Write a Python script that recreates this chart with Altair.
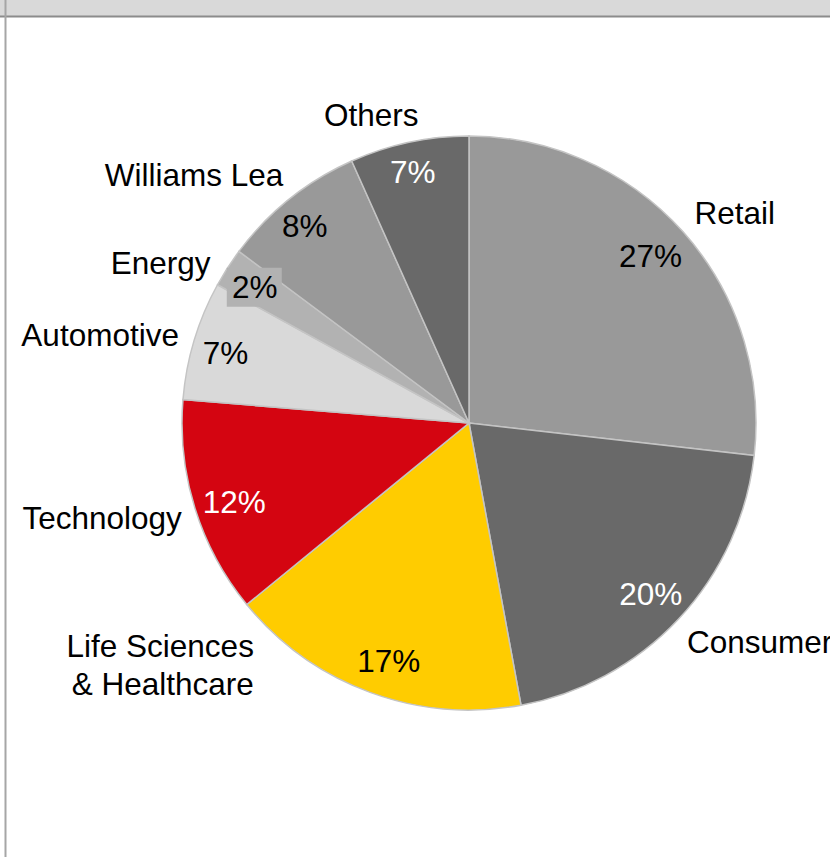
import math
import altair as alt
import pandas as pd

# ---- data ----
sectors = ["Retail", "Consumer", "Life Sciences & Healthcare", "Technology",
           "Automotive", "Energy", "Williams Lea", "Others"]
shares = [26.8, 20.3, 17.0, 12.2, 6.7, 2.2, 8.1, 6.7]
pct_labels = ["27%", "20%", "17%", "12%", "7%", "2%", "8%", "7%"]
name_labels = ["Retail", "Consumer", "Life Sciences\n& Healthcare", "Technology",
               "Automotive", "Energy", "Williams Lea", "Others"]

slice_colors = ["#999999", "#696969", "#FFCC00", "#D40511",
                "#D9D9D9", "#B2B2B2", "#999999", "#696969"]
pct_colors = ["#000000", "#FFFFFF", "#000000", "#FFFFFF",
              "#000000", "#000000", "#000000", "#FFFFFF"]

df = pd.DataFrame({
    "order": list(range(len(sectors))),
    "sector": sectors,
    "share": shares,
    "pct": pct_labels,
    "name": name_labels,
})
total = sum(shares)

FONT = "Liberation Sans"
FS = 31.5
CX, CY = 469, 423
R_OUT = 287
R_PCT = 250
R_NAME = 305
ts = alt.Scale(domain=[0, total], range=[0, 2 * math.pi])

base = (
    alt.Chart(df)
    .transform_window(cum="sum(share)", sort=[alt.SortField("order")], frame=[None, 0])
    .transform_calculate(start="datum.cum - datum.share",
                         mid="datum.cum - datum.share / 2")
)

pos = dict(x=alt.value(CX), y=alt.value(CY))

arcs = base.mark_arc(outerRadius=R_OUT, stroke="#C4C4C4", strokeWidth=1.5).encode(
    theta=alt.Theta("start:Q", stack=None, scale=ts),
    theta2="cum:Q",
    color=alt.Color("sector:N", scale=alt.Scale(domain=sectors, range=slice_colors), legend=None),
    **pos,
)

# per-label nudges for the percentage labels (inside end of each slice)
pct_place = {
    "Retail": (-5, 2),
    "Consumer": (-1, 2),
    "Life Sciences & Healthcare": (6, 5),
    "Technology": (4, 7),
    "Automotive": (-4, 4),
    "Energy": (-4, 1),
    "Williams Lea": (-8, 0),
    "Others": (-4, -5),
}

# background box behind the small "2%" label, centred on the label position
ang = f"2 * PI * datum.mid / {total}"
e_dx, e_dy = pct_place["Energy"]
energy_bg = (
    base.transform_filter(alt.datum.sector == "Energy")
    .transform_calculate(
        bx=f"{CX} + {R_PCT} * sin({ang}) + ({e_dx})",
        by=f"{CY} - {R_PCT} * cos({ang}) + ({e_dy})",
    )
    .transform_calculate(bx1="datum.bx - 28", bx2="datum.bx + 27",
                         by1="datum.by - 21", by2="datum.by + 18")
    .mark_rect(color="#B2B2B2")
    .encode(
        x=alt.X("bx1:Q", scale=None), x2="bx2:Q",
        y=alt.Y("by1:Q", scale=None), y2="by2:Q",
    )
)

pct_layers = []
for sec, (ddx, ddy) in pct_place.items():
    pct_layers.append(
        base.transform_filter(alt.datum.sector == sec)
        .mark_text(radius=R_PCT, fontSize=FS, font=FONT, dx=ddx, dy=ddy)
        .encode(
            theta=alt.Theta("mid:Q", stack=None, scale=ts),
            text="pct:N",
            color=alt.Color("sector:N", scale=alt.Scale(domain=sectors, range=pct_colors), legend=None),
            **pos,
        )
    )

# per-label placement (alignment and nudges) for the outside category names
name_place = {
    "Retail": dict(align="left", dx=-2, dy=-5),
    "Consumer": dict(align="left", dx=-5, dy=13),
    "Life Sciences & Healthcare": dict(align="right", dx=-110, dy=-61),
    "Technology": dict(align="right", dx=4, dy=6),
    "Automotive": dict(align="right", dx=2, dy=2),
    "Energy": dict(align="right", dx=-2, dy=7),
    "Williams Lea": dict(align="right", dx=5, dy=-8),
    "Others": dict(align="center", dx=-34, dy=-8),
}

name_layers = []
for sec, opts in name_place.items():
    name_layers.append(
        base.transform_filter(alt.datum.sector == sec)
        .mark_text(radius=R_NAME, fontSize=FS, font=FONT, color="#000000",
                   lineBreak="\n", lineHeight=38, **opts)
        .encode(theta=alt.Theta("mid:Q", stack=None, scale=ts), text="name:N", **pos)
    )

frame_df = pd.DataFrame({"k": [0]})
header = alt.Chart(frame_df).mark_rect(color="#D9D9D9").encode(
    x=alt.value(0), x2=alt.value(830), y=alt.value(0), y2=alt.value(16))
header_line = alt.Chart(frame_df).mark_rule(color="#8C8C8C", strokeWidth=2).encode(
    x=alt.value(0), x2=alt.value(830), y=alt.value(16.5))
left_border = alt.Chart(frame_df).mark_rule(color="#A6A6A6", strokeWidth=2).encode(
    x=alt.value(5.5), y=alt.value(0), y2=alt.value(857))

chart = alt.layer(
    header, header_line, left_border,
    arcs, energy_bg, *pct_layers,
    *name_layers,
).resolve_scale(color="independent").properties(
    width=830, height=857,
    autosize=alt.AutoSizeParams(type="none"),
    padding=0,
    background="#FFFFFF",
).configure_view(stroke=None)

chart.save("out.html", embed_options={"renderer": "svg", "actions": False})
